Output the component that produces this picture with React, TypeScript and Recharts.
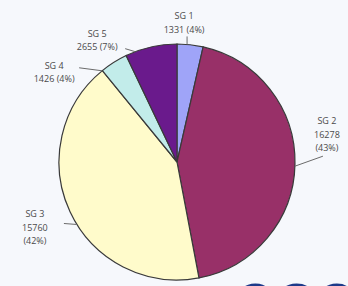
import { Pie, PieChart, Cell } from 'recharts';

const GROUPS = ['SG 1', 'SG 2', 'SG 3', 'SG 4', 'SG 5'];
const COUNTS = [1331, 16278, 15760, 1426, 2655];
const PERCENT_LABELS = ['4%', '43%', '42%', '4%', '7%'];

const COLORS = ['#9fa4f8', '#983068', '#fffbcb', '#c2ecea', '#6a1a8c'];

// label placement tweaks per slice (angle nudge in deg, leader vector, text offset)
const LABEL_NUDGE = [
  { da: 1.5, lx: 0, ly: -8, tx: -3, ty: -17, stacked: false },
  { da: -1, lx: 28, ly: -10, tx: 4, ty: -32, stacked: true },
  { da: 7, lx: -13, ly: -1, tx: -29, ty: -6, stacked: true },
  { da: 7, lx: -23, ly: -3, tx: -25, ty: 1, stacked: false },
  { da: 8, lx: -10, ly: -3, tx: -28, ty: -12, stacked: false },
];

const data = GROUPS.map((name, i) => ({ name, value: COUNTS[i], pct: PERCENT_LABELS[i] }));

const RAD = Math.PI / 180;

function SliceLabel(props: any) {
  const { cx, cy, midAngle, outerRadius, index } = props;
  const n = LABEL_NUDGE[index];
  const a = midAngle + n.da;
  const sx = cx + outerRadius * Math.cos(-a * RAD);
  const sy = cy + outerRadius * Math.sin(-a * RAD);
  const ex = sx + n.lx;
  const ey = sy + n.ly;
  const d = data[index];
  const lines = n.stacked
    ? [d.name, String(d.value), `(${d.pct})`]
    : [d.name, `${d.value} (${d.pct})`];
  return (
    <g>
      <line x1={sx} y1={sy} x2={ex} y2={ey} stroke="#6b6b6b" strokeWidth={1} />
      <text
        x={ex + n.tx}
        y={ey + n.ty}
        textAnchor="middle"
        fill="#4a4a4a"
        fontSize={9}
        fontFamily="'Open Sans', sans-serif"
      >
        {lines.map((t, k) => (
          <tspan key={k} x={ex + n.tx} dy={k === 0 ? 0 : 13.5}>
            {t}
          </tspan>
        ))}
      </text>
    </g>
  );
}

export default function App() {
  return (
    <div
      style={{
        position: 'absolute',
        top: 0,
        left: 0,
        width: 348,
        height: 286,
        background: '#f6f8fc',
        overflow: 'hidden',
      }}
    >
      <PieChart width={348} height={286}>
        <Pie
          data={data}
          dataKey="value"
          cx={172}
          cy={157}
          outerRadius={118}
          startAngle={90}
          endAngle={-270}
          stroke="#3a3a3a"
          strokeWidth={1.2}
          label={SliceLabel}
          labelLine={false}
          isAnimationActive={false}
        >
          {data.map((d, i) => (
            <Cell key={d.name} fill={COLORS[i]} />
          ))}
        </Pie>
      </PieChart>
      <div
        style={{
          position: 'absolute',
          left: 236,
          top: 277,
          fontFamily: "'Liberation Sans', Arial, sans-serif",
          fontWeight: 700,
          fontSize: 50,
          lineHeight: '50px',
          letterSpacing: 2,
          color: '#1d3a8a',
        }}
      >
        OGC
      </div>
    </div>
  );
}
